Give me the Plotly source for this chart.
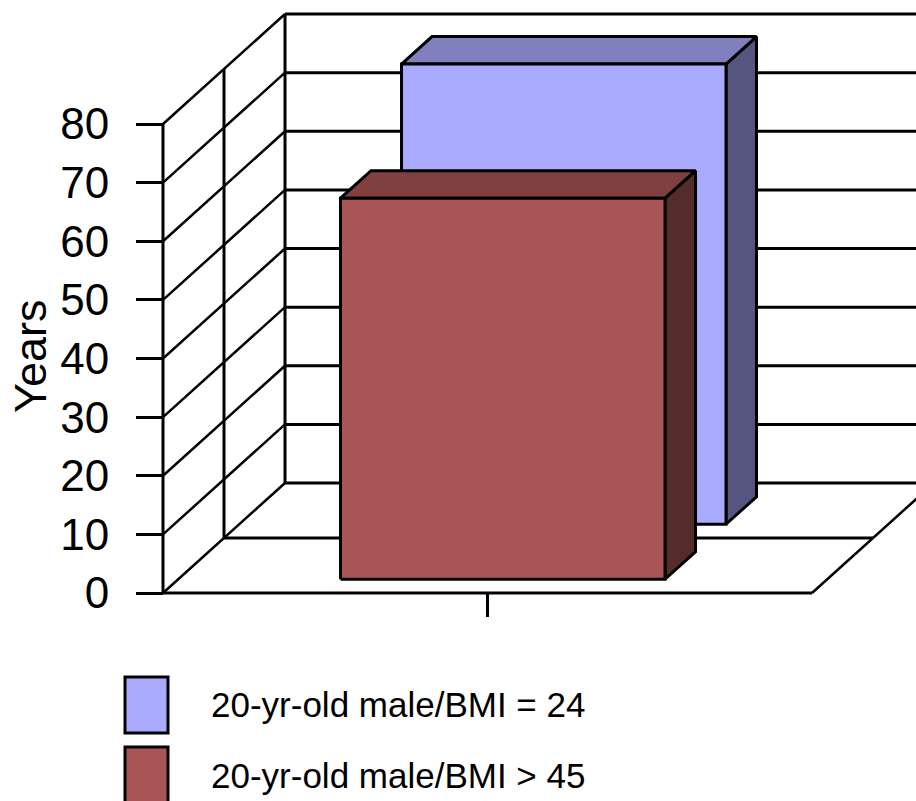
import plotly.graph_objects as go

# ---- data ----
categories = [0]
series_names = ["20-yr-old male/BMI = 24", "20-yr-old male/BMI > 45"]
series_values = [78.5, 65]
y_ticks = [0, 10, 20, 30, 40, 50, 60, 70, 80]
y_title = "Years"

# ---- styling ----
front_colors = ["#AAAAFF", "#AA5555"]
top_colors = ["#8080BF", "#804040"]
side_colors = ["#555580", "#552B2B"]

W, H = 916, 801
AXIS_X_PX = 163          # left/front corner of the floor
BASE_Y_PX = 593          # value 0 on the front plane
PX_PER_YEAR = 469 / 80   # vertical scale
PX_PER_CAT = 649         # width of one category slot
DEPTH_DX_PX = 122        # oblique offset of full depth
DEPTH_DY_PX = 110
Y_MAX = 80
BAR_WIDTH = 0.5

DX = DEPTH_DX_PX / PX_PER_CAT
DY = DEPTH_DY_PX / PX_PER_YEAR
X_LEFT = -0.5
X_RIGHT = len(categories) - 0.5


def proj(x, v, d):
    """Oblique projection: category x, value v, depth d (0 front .. 1 back)."""
    return x + d * DX, v + d * DY


def px_to_paper(x, y):
    return x / W, 1 - y / H


fig = go.Figure()


def add_lines(segments, width=3):
    xs, ys = [], []
    for seg in segments:
        for p in seg:
            x, y = proj(*p)
            xs.append(x)
            ys.append(y)
        xs.append(None)
        ys.append(None)
    fig.add_trace(go.Scatter(x=xs, y=ys, mode="lines", hoverinfo="skip",
                             line=dict(color="black", width=width),
                             showlegend=False))


# walls and floor
diag = []
straight = []
for v in y_ticks:
    diag.append([(X_LEFT, v, 0), (X_LEFT, v, 1)])
    straight.append([(X_LEFT, v, 1), (X_RIGHT, v, 1)])
straight.append([(X_LEFT, 0, 0), (X_LEFT, Y_MAX, 0)])
straight.append([(X_LEFT, 0, 0.5), (X_LEFT, Y_MAX, 0.5)])
straight.append([(X_LEFT, 0, 1), (X_LEFT, Y_MAX, 1)])
straight.append([(X_LEFT, 0, 0), (X_RIGHT, 0, 0)])
straight.append([(X_LEFT, 0, 0.5), (X_RIGHT, 0, 0.5)])
diag.append([(X_RIGHT, 0, 0), (X_RIGHT, 0, 1)])
add_lines(straight, 3)
add_lines(diag, 2.5)


def add_poly(pts, color):
    xs, ys = zip(*[proj(*p) for p in pts])
    fig.add_trace(go.Scatter(x=list(xs) + [xs[0]], y=list(ys) + [ys[0]],
                             mode="lines", fill="toself", fillcolor=color,
                             line=dict(color="black", width=3),
                             hoverinfo="skip", showlegend=False))


n = len(series_values)
for i in range(n):
    row = n - 1 - i
    d0 = (row + 0.25) / 2
    d1 = (row + 0.75) / 2
    for c in categories:
        v = series_values[i]
        xl, xr = c - BAR_WIDTH / 2, c + BAR_WIDTH / 2
        add_poly([(xr, 0, d0), (xr, 0, d1), (xr, v, d1), (xr, v, d0)], side_colors[i])
        add_poly([(xl, v, d0), (xr, v, d0), (xr, v, d1), (xl, v, d1)], top_colors[i])
        add_poly([(xl, 0, d0), (xr, 0, d0), (xr, v, d0), (xl, v, d0)], front_colors[i])

# legend drawn by hand
shapes = []
annotations = []
legend_rows = [(677, 733, 704), (747, 803, 775)]
legend_font = dict(family="Liberation Sans, Arial", size=35, color="black")
for i, (top, bot, mid) in enumerate(legend_rows):
    x0, y0 = px_to_paper(125, bot)
    x1, y1 = px_to_paper(168, top)
    shapes.append(dict(type="rect", xref="paper", yref="paper", x0=x0, y0=y0, x1=x1, y1=y1,
                       fillcolor=front_colors[i], line=dict(color="black", width=3)))
    tx, ty = px_to_paper(209, mid)
    annotations.append(dict(xref="paper", yref="paper", x=tx, y=ty, text=series_names[i],
                            showarrow=False, xanchor="left", yanchor="middle",
                            font=legend_font))

tx, ty = px_to_paper(30, 357)
annotations.append(dict(xref="paper", yref="paper", x=tx, y=ty, text=y_title,
                        textangle=-90, showarrow=False, xanchor="center", yanchor="middle",
                        font=dict(family="Liberation Sans, Arial", size=45, color="black")))

x_min = X_LEFT - AXIS_X_PX / PX_PER_CAT
x_max = X_LEFT + (W - AXIS_X_PX) / PX_PER_CAT
y_min = -(H - BASE_Y_PX) / PX_PER_YEAR
y_max = BASE_Y_PX / PX_PER_YEAR

fig.update_layout(
    width=W, height=H,
    margin=dict(l=0, r=0, t=0, b=0),
    paper_bgcolor="white", plot_bgcolor="white",
    showlegend=False,
    shapes=shapes, annotations=annotations,
    xaxis=dict(range=[x_min, x_max], anchor="free", position=(H - BASE_Y_PX) / H,
               showgrid=False, zeroline=False, showline=False,
               ticks="outside", ticklen=23, tickwidth=3, tickcolor="black",
               tickvals=categories, showticklabels=False),
    yaxis=dict(range=[y_min, y_max], anchor="free", position=AXIS_X_PX / W,
               showgrid=False, zeroline=False, showline=False,
               ticks="outside", ticklen=27, tickwidth=3, tickcolor="black",
               tickvals=y_ticks, ticklabelstandoff=18,
               tickfont=dict(family="Liberation Sans, Arial", size=44, color="black")),
)

fig.write_html("out.html")
